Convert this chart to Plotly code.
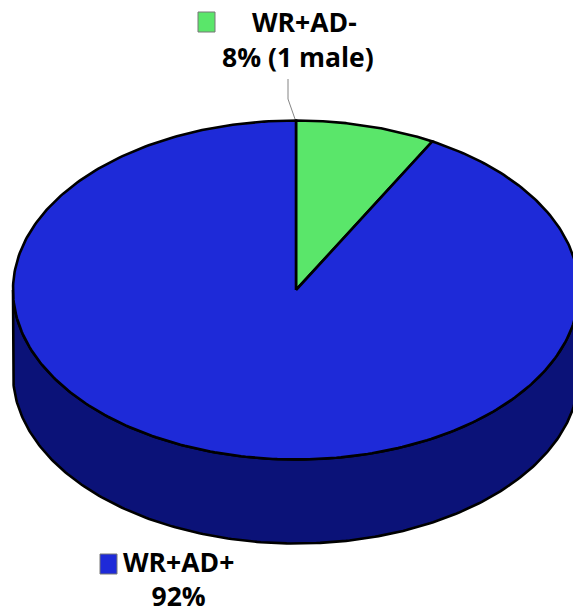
import numpy as np
import plotly.graph_objects as go

categories = ["WR+AD-", "WR+AD+"]
shares = [8, 92]
sublabels = ["8% (1 male)", "92%"]
top_colors = ["#5AE66A", "#1E2AD8"]
side_color = "#0B1278"
EDGE = "#000000"

W, H = 573, 614
cx, cy, rx, ry, depth = 296, 290, 283, 169.5, 84


def pt(angle):
    return cx + rx * np.sin(angle), cy - ry * np.cos(angle)


fig = go.Figure()

# side wall (front half of the disc extruded downward)
t = np.linspace(np.pi / 2, 3 * np.pi / 2, 240)
x, y = pt(t)
fig.add_trace(go.Scatter(
    x=np.r_[x, x[::-1], x[0]], y=np.r_[y, y[::-1] + depth, y[0]],
    mode="lines", fill="toself", fillcolor=side_color,
    line=dict(color=EDGE, width=2.6), hoverinfo="skip", showlegend=False))

# slices of the top face, built from the shares
start = 0.0
for name, share, color in zip(categories, shares, top_colors):
    end = start + share / sum(shares) * 2 * np.pi
    t = np.linspace(start, end, 360)
    x, y = pt(t)
    fig.add_trace(go.Scatter(
        x=np.r_[cx, x, cx], y=np.r_[cy, y, cy],
        mode="lines", fill="toself", fillcolor=color,
        line=dict(color=EDGE, width=2.6), name=name,
        hoverinfo="name", showlegend=False))
    start = end

# leader line
fig.add_trace(go.Scatter(
    x=[288, 288, 295], y=[79, 99, 119], mode="lines",
    line=dict(color="#666666", width=0.8), hoverinfo="skip", showlegend=False))

FONT = dict(family="Open Sans, sans-serif", size=26.5, color="#000000")
annots = [
    (304, 22, f"<b>{categories[0]}</b>"),
    (297.5, 57, f"<b>{sublabels[0]}</b>"),
    (178, 579, f"<b>{categories[1]}</b><br><b>{sublabels[1]}</b>"),
]
for ax, ay, txt in annots:
    fig.add_annotation(x=ax, y=ay, text=txt, showarrow=False, font=FONT,
                       xanchor="center", yanchor="middle", align="center")

# legend keys
for (x0, y0, x1, y1), color in zip([(198, 12, 215, 32), (100, 554, 117, 574)], top_colors):
    fig.add_shape(type="rect", x0=x0, y0=y0, x1=x1, y1=y1,
                  fillcolor=color, line=dict(color="#777777", width=1))

fig.update_layout(
    width=W, height=H, margin=dict(l=0, r=0, t=0, b=0),
    paper_bgcolor="#FFFFFF", plot_bgcolor="#FFFFFF", showlegend=False,
    xaxis=dict(range=[0, W], visible=False, fixedrange=True),
    yaxis=dict(range=[H, 0], visible=False, fixedrange=True),
)
fig.write_html("out.html", config=dict(displayModeBar=False),
               default_width=f"{W}px", default_height=f"{H}px",
               post_script="document.body.style.margin='0';")
